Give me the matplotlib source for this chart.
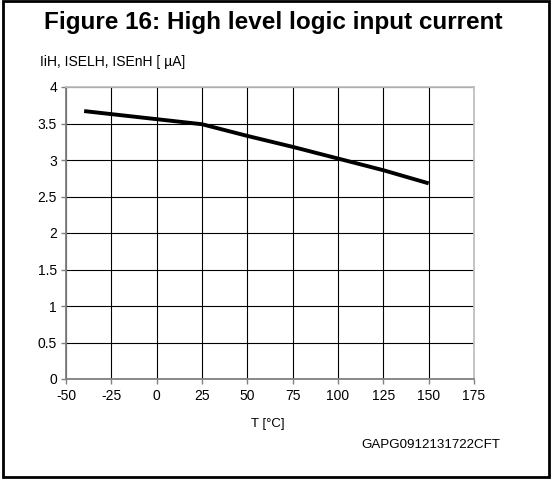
import matplotlib
matplotlib.use("Agg")
import matplotlib.pyplot as plt
from matplotlib.patches import Rectangle

plt.rcParams['font.family'] = ['Liberation Sans', 'DejaVu Sans']

temps = [-40, 25, 50, 75, 100, 125, 150]
current = [3.67, 3.49, 3.33, 3.18, 3.02, 2.86, 2.68]
xticks = [-50, -25, 0, 25, 50, 75, 100, 125, 150, 175]
yticks = [0, 0.5, 1, 1.5, 2, 2.5, 3, 3.5, 4]
ytick_labels = ['0', '0.5', '1', '1.5', '2', '2.5', '3', '3.5', '4']

W, H = 552, 480
fig = plt.figure(figsize=(W / 100, H / 100), dpi=100)
ax = fig.add_axes([66 / W, 1 - 379 / H, (474 - 66) / W, (379 - 87) / H])

ax.plot(temps, current, color='black', lw=2.8, solid_capstyle='butt', zorder=3)

ax.set_xlim(-50, 175)
ax.set_ylim(0, 4)
ax.set_xticks(xticks)
ax.set_xticklabels([str(t) for t in xticks])
ax.set_yticks(yticks)
ax.set_yticklabels(ytick_labels)
ax.grid(True, color='black', lw=0.8, zorder=1)
ax.set_axisbelow(True)
ax.tick_params(axis='both', direction='out', length=3.5, width=1.0, color='#808080',
               labelsize=10, pad=3)
ax.tick_params(axis='x', pad=4)
for s in ['left', 'bottom']:
    ax.spines[s].set_color('#808080')
    ax.spines[s].set_linewidth(1.3)
for s in ['top', 'right']:
    ax.spines[s].set_color('#c0c0c0')
    ax.spines[s].set_linewidth(1.3)

fig.text(273 / W, 1 - 22.5 / H, 'Figure 16: High level logic input current',
         ha='center', va='center', fontsize=17.5, fontweight='bold')
fig.text(40 / W, 1 - 62 / H, 'IiH, ISELH, ISEnH [ µA]', ha='left', va='center', fontsize=10)
fig.text(268 / W, 1 - 424 / H, 'T [°C]', ha='center', va='center', fontsize=9.5)
fig.text(500 / W, 1 - 445 / H, 'GAPG0912131722CFT', ha='right', va='center', fontsize=9.6)

fig.patches.append(Rectangle((2.5 / W, 1 - 477 / H), (549 - 2.5) / W, (477 - 1) / H,
                             transform=fig.transFigure, fill=False, edgecolor='black', lw=2))

fig.savefig('out.png', dpi=100)
